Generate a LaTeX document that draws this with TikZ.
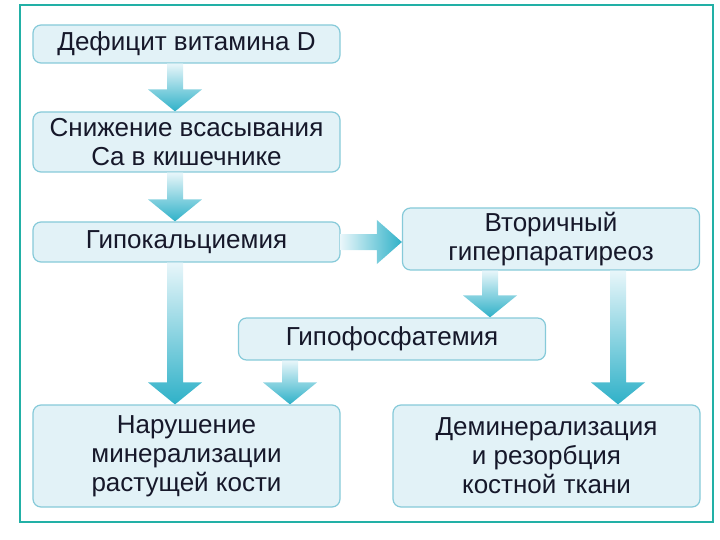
\documentclass[tikz,border=0pt]{standalone}
\usepackage{fontspec}
\setmainfont{Liberation Sans}
\usepackage{xcolor}
\usetikzlibrary{calc}

\definecolor{framecol}{HTML}{22B0A6}
\definecolor{boxfill}{HTML}{E2F2F7}
\definecolor{boxline}{HTML}{86CAD9}
\definecolor{arrlight}{HTML}{E8F6FA}
\definecolor{arrdark}{HTML}{2FB1C8}
\definecolor{txt}{HTML}{16182A}

% fat shaded arrows: from, to, column
\newcommand{\fatdown}[3]{%
  \shade[top color=arrlight, bottom color=arrdark]
    let \p1=(#1.south -| #3), \p2=(#2.north -| #3) in
    (\x1-8pt,\y1) -- (\x1-8pt,\y2+22pt) -- (\x1-27pt,\y2+22pt) -- (\x2,\y2)
    -- (\x1+27pt,\y2+22pt) -- (\x1+8pt,\y2+22pt) -- (\x1+8pt,\y1) -- cycle;}
\newcommand{\fatright}[2]{%
  \shade[left color=arrlight, right color=arrdark]
    let \p1=(#1.east), \p2=(#2.west |- #1.east) in
    (\x1,\y1+8pt) -- (\x2-25pt,\y1+8pt) -- (\x2-25pt,\y1+22pt) -- (\x2,\y1)
    -- (\x2-25pt,\y1-22pt) -- (\x2-25pt,\y1-8pt) -- (\x1,\y1-8pt) -- cycle;}

\begin{document}
\begin{tikzpicture}[
    x=1pt, y=-1pt,
    every node/.style={font=\fontsize{26}{29}\selectfont, text=txt},
    box/.style={draw=boxline, fill=boxfill, line width=1.2pt, rounded corners=8pt,
      align=center, inner sep=0pt, minimum width=307pt}
]
    \useasboundingbox (0,0) rectangle (720,540);
    \draw[framecol, line width=2.5pt] (20,5) rectangle (713,522);

    \node[box, minimum height=38pt] (deficit) at (186.5,44) {Дефицит витамина D};
    \node[box, minimum height=60pt] (absorb) at (186.5,142) {Снижение всасывания\\Ca в кишечнике};
    \node[box, minimum height=40pt] (hypoca) at (186.5,242) {Гипокальциемия};
    \node[box, minimum height=62pt, minimum width=297pt] (hpt) at (551,239) {Вторичный\\гиперпаратиреоз};
    \node[box, minimum height=42pt] (hypop) at (392,339) {Гипофосфатемия};
    \node[box, minimum height=102pt] (mineral) at (186.5,456) {Нарушение\\минерализации\\растущей кости};
    \node[box, minimum height=102pt] (resorb) at (546.5,456) {Деминерализация\\и резорбция\\костной ткани};

    \coordinate (colA) at (175,0);
    \coordinate (colB) at (290,0);
    \coordinate (colC) at (490,0);
    \coordinate (colD) at (618,0);

    \fatdown{deficit}{absorb}{colA}
    \fatdown{absorb}{hypoca}{colA}
    \fatdown{hypoca}{mineral}{colA}
    \fatright{hypoca}{hpt}
    \fatdown{hpt}{hypop}{colC}
    \fatdown{hpt}{resorb}{colD}
    \fatdown{hypop}{mineral}{colB}
\end{tikzpicture}
\end{document}
